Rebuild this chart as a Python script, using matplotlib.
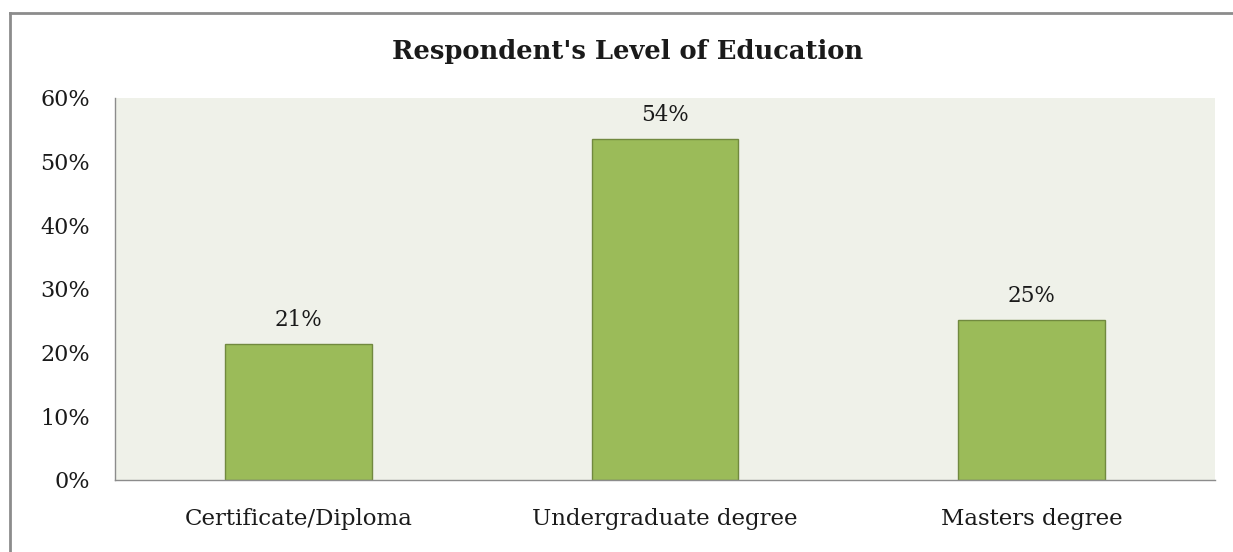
import matplotlib
matplotlib.use("Agg")
import matplotlib.pyplot as plt
from matplotlib.ticker import PercentFormatter, MultipleLocator
from matplotlib.lines import Line2D

categories = ["Certificate/Diploma", "Undergraduate degree", "Masters degree"]
values = [0.214, 0.536, 0.251]
labels = ["21%", "54%", "25%"]

W, H = 1233, 552
fig = plt.figure(figsize=(W / 100, H / 100), dpi=100)
fig.patch.set_facecolor("white")

font = "DejaVu Serif"

# Outer chart frame (left and top visible)
fig.add_artist(Line2D([10 / W, 10 / W], [0, 1 - 13 / H], transform=fig.transFigure,
                      color="#8c8c8c", lw=2))
fig.add_artist(Line2D([10 / W, 1], [1 - 13 / H, 1 - 13 / H], transform=fig.transFigure,
                      color="#8c8c8c", lw=2))

left, right, top, bottom = 115, 1215, 98, 480
ax = fig.add_axes([left / W, 1 - bottom / H, (right - left) / W, (bottom - top) / H])
ax.set_facecolor("#EFF1E9")

x = range(len(categories))
ax.bar(x, values, width=0.4, color="#9BBB59", edgecolor="#71893F", linewidth=1)
for xi, v, lab in zip(x, values, labels):
    ax.text(xi, v + 0.02, lab, ha="center", va="bottom", fontsize=15.5, family=font,
            color="#1a1a1a")

ax.set_xlim(-0.5, 2.5)
ax.set_ylim(0, 0.6)
ax.yaxis.set_major_locator(MultipleLocator(0.1))
ax.yaxis.set_major_formatter(PercentFormatter(1.0, decimals=0))
ax.set_xticks(list(x))
ax.set_xticklabels(categories)
for s in ["top", "right"]:
    ax.spines[s].set_visible(False)
for s in ["left", "bottom"]:
    ax.spines[s].set_color("#8c8c8c")
    ax.spines[s].set_linewidth(1)
ax.tick_params(axis="y", length=0, labelsize=16, colors="#1a1a1a", pad=18)
ax.tick_params(axis="x", length=0, labelsize=16.5, colors="#1a1a1a", pad=20)
for t in ax.get_xticklabels() + ax.get_yticklabels():
    t.set_family(font)

fig.text(628 / W, 1 - 52 / H, "Respondent's Level of Education",
         ha="center", va="center", fontsize=18.5, fontweight="bold", family=font,
         color="#1a1a1a")

fig.savefig("out.png", dpi=100)
